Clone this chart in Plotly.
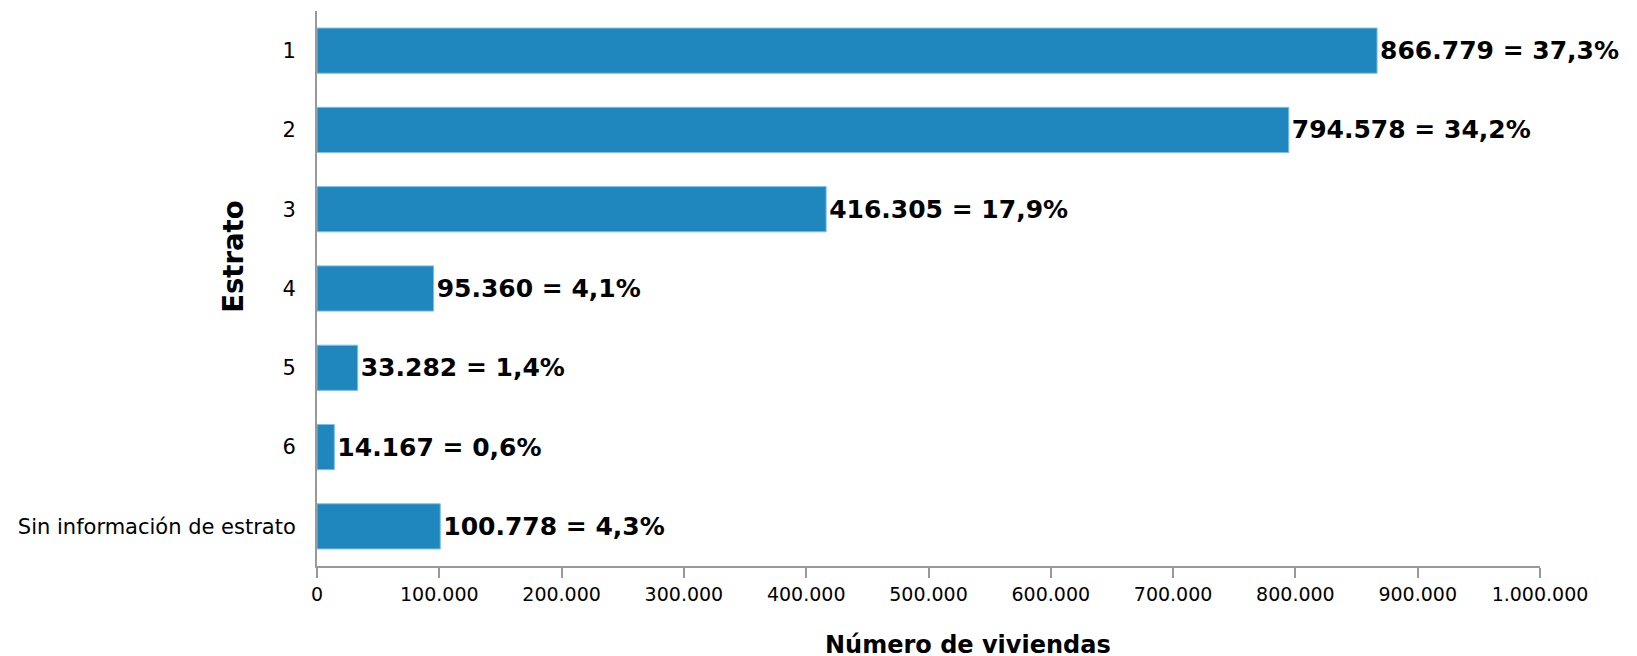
import plotly.graph_objects as go

categories = ["1", "2", "3", "4", "5", "6", "Sin información de estrato"]
viviendas = [866779, 794578, 416305, 95360, 33282, 14167, 100778]
porcentajes = ["37,3%", "34,2%", "17,9%", "4,1%", "1,4%", "0,6%", "4,3%"]
tick_vals = [0, 100000, 200000, 300000, 400000, 500000, 600000, 700000, 800000, 900000, 1000000]
tick_text = ["0", "100.000", "200.000", "300.000", "400.000", "500.000", "600.000",
             "700.000", "800.000", "900.000", "1.000.000"]

def fmt(v):
    return f"{v:,}".replace(",", ".")

labels = [f"{fmt(v)} = {p}" for v, p in zip(viviendas, porcentajes)]

FONT = "DejaVu Sans, Verdana, sans-serif"

fig = go.Figure(go.Bar(
    x=viviendas,
    y=categories,
    orientation="h",
    marker=dict(color="#1f87be", line=dict(color="#7cc0e4", width=1)),
    text=labels,
    textposition="outside",
    constraintext="none",
    cliponaxis=False,
    textfont=dict(family=FONT, size=25, color="#000000", weight="bold"),
))

fig.update_layout(
    width=1637, height=656,
    margin=dict(l=309, r=105, t=3, b=98),
    plot_bgcolor="white", paper_bgcolor="white",
    font=dict(family=FONT, size=20, color="#000000"),
    bargap=0.43,
    showlegend=False,
    annotations=[
        dict(text="<b>Número de viviendas</b>", xref="paper", yref="paper",
             x=0.532, y=-0.142, xanchor="center", yanchor="middle",
             showarrow=False, font=dict(family=FONT, size=24, color="#000000")),
        dict(text="<b>Estrato</b>", xref="paper", yref="paper",
             x=-0.0687, y=0.557, xanchor="center", yanchor="middle", textangle=-90,
             showarrow=False, font=dict(family=FONT, size=27.5, color="#000000")),
    ],
)
fig.update_xaxes(
    range=[0, 1000000], automargin=False,
    tickvals=tick_vals, ticktext=tick_text,
    showgrid=False, zeroline=False,
    showline=True, linecolor="#999999", linewidth=2,
    ticks="outside", ticklen=10, tickcolor="#999999", tickwidth=2,
    tickfont=dict(size=19),
)
fig.update_yaxes(
    categoryorder="array", categoryarray=categories, autorange="reversed",
    automargin=False,
    showgrid=False, zeroline=False,
    showline=True, linecolor="#999999", linewidth=2,
    ticks="", ticklabelstandoff=15,
    tickfont=dict(size=21),
)

fig.write_html("out.html")
